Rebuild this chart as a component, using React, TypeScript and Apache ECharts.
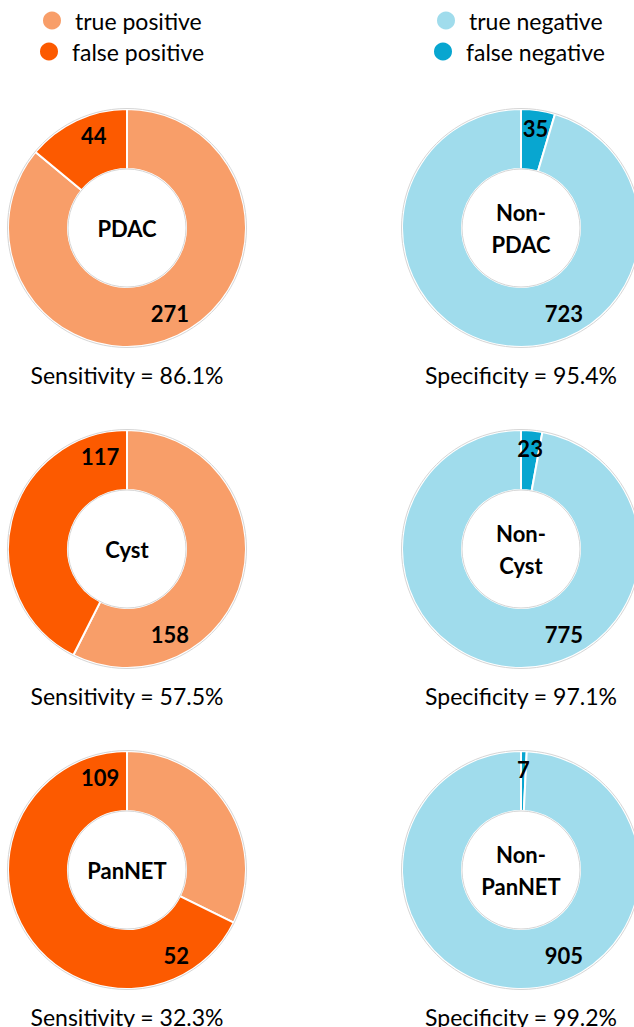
import React, { useEffect, useRef } from "react";
import * as echarts from "echarts";

// ---- data ----
const positiveClasses = ["PDAC", "Cyst", "PanNET"];
const negativeClasses = ["Non-\nPDAC", "Non-\nCyst", "Non-\nPanNET"];
const truePositive = [271, 158, 52];
const falsePositive = [44, 117, 109];
const trueNegative = [723, 775, 905];
const falseNegative = [35, 23, 7];
const sensitivity = ["86.1%", "57.5%", "32.3%"];
const specificity = ["95.4%", "97.1%", "99.2%"];
const legendPositive = ["true positive", "false positive"];
const legendNegative = ["true negative", "false negative"];

// ---- style ----
const COLORS: Record<string, string> = {
  "true positive": "#F89E69",
  "false positive": "#FC5A00",
  "true negative": "#A0DCEC",
  "false negative": "#08A6D0",
};
const FONT = "Lato, 'Open Sans', sans-serif";
const W = 634;
const H = 1027;
const LEFT_CX = 127;
const RIGHT_CX = 521;
const ROW_CY = [228, 549, 870];
const R0 = 59;
const R1 = 119;

export default function App() {
  const ref = useRef<HTMLDivElement>(null);

  useEffect(() => {
    document.body.style.margin = "0";
    if (!ref.current) return;
    const chart = echarts.init(ref.current, null, { renderer: "svg" });

    const labelStyle = {
      show: true,
      position: "inside" as const,
      color: "#000",
      fontFamily: FONT,
      fontWeight: "bold" as const,
      fontSize: 22,
    };

    const series: any[] = [];
    const graphic: any[] = [];

    positiveClasses.forEach((name, i) => {
      const cx = LEFT_CX;
      const cy = ROW_CY[i];
      series.push({
        type: "pie",
        name,
        center: [cx, cy],
        radius: [R0, R1],
        startAngle: 90,
        clockwise: true,
        silent: true,
        avoidLabelOverlap: false,
        emphasis: { disabled: true },
        labelLine: { show: false },
        itemStyle: { borderColor: "#fff", borderWidth: 2 },
        label: { ...labelStyle, formatter: "{c}" },
        labelLayout: (p: any) =>
          p.dataIndex === 0
            ? { x: cx + 62, y: cy + 85, align: "right", verticalAlign: "middle" }
            : { x: cx - 46, y: cy - 93, align: "left", verticalAlign: "middle" },
        data: [
          { name: legendPositive[0], value: truePositive[i], itemStyle: { color: COLORS[legendPositive[0]] } },
          { name: legendPositive[1], value: falsePositive[i], itemStyle: { color: COLORS[legendPositive[1]] } },
        ],
      });
      graphic.push({
        type: "text",
        z: 20,
        style: {
          text: name,
          x: cx,
          y: cy,
          align: "center",
          verticalAlign: "middle",
          fontFamily: FONT,
          fontWeight: "bold",
          fontSize: 22,
          fill: "#000",
        },
      });
      graphic.push({
        type: "text",
        z: 20,
        style: {
          text: `Sensitivity = ${sensitivity[i]}`,
          x: cx,
          y: cy + 147,
          align: "center",
          verticalAlign: "middle",
          fontFamily: FONT,
          fontSize: 23,
          fill: "#000",
        },
      });
    });

    negativeClasses.forEach((name, i) => {
      const cx = RIGHT_CX;
      const cy = ROW_CY[i];
      const half = (falseNegative[i] / (falseNegative[i] + trueNegative[i])) * Math.PI;
      series.push({
        type: "pie",
        name,
        center: [cx, cy],
        radius: [R0, R1],
        startAngle: 90,
        clockwise: true,
        silent: true,
        avoidLabelOverlap: false,
        emphasis: { disabled: true },
        labelLine: { show: false },
        itemStyle: { borderColor: "#fff", borderWidth: 2 },
        label: { ...labelStyle, formatter: "{c}" },
        labelLayout: (p: any) =>
          p.dataIndex === 0
            ? { x: cx + 101 * Math.sin(half), y: cy - 101 * Math.cos(half), align: "center", verticalAlign: "middle" }
            : { x: cx + 62, y: cy + 85, align: "right", verticalAlign: "middle" },
        data: [
          { name: legendNegative[1], value: falseNegative[i], itemStyle: { color: COLORS[legendNegative[1]] } },
          { name: legendNegative[0], value: trueNegative[i], itemStyle: { color: COLORS[legendNegative[0]] } },
        ],
      });
      graphic.push({
        type: "text",
        z: 20,
        style: {
          text: name,
          x: cx,
          y: cy,
          align: "center",
          verticalAlign: "middle",
          fontFamily: FONT,
          fontWeight: "bold",
          fontSize: 22,
          lineHeight: 32,
          fill: "#000",
        },
      });
      graphic.push({
        type: "text",
        z: 20,
        style: {
          text: `Specificity = ${specificity[i]}`,
          x: cx,
          y: cy + 147,
          align: "center",
          verticalAlign: "middle",
          fontFamily: FONT,
          fontSize: 23,
          fill: "#000",
        },
      });
    });

    // faint outlines of the rings
    [LEFT_CX, RIGHT_CX].forEach((cx) =>
      ROW_CY.forEach((cy) => {
        [R1 + 0.5, R0].forEach((r) =>
          graphic.push({
            type: "circle",
            z: 15,
            silent: true,
            shape: { cx, cy, r },
            style: { fill: null, stroke: "#d6d6d6", lineWidth: 1 },
          })
        );
      })
    );

    const legendItem = (name: string, left: number, top: number) => ({
      orient: "vertical",
      left,
      top,
      padding: 0,
      icon: "circle",
      itemWidth: 36,
      itemHeight: 20,
      selectedMode: false,
      data: [name],
      textStyle: { fontFamily: FONT, fontSize: 23, color: "#000", lineHeight: 20 },
    });

    chart.setOption({
      animation: false,
      backgroundColor: "#fff",
      legend: [
        legendItem(legendPositive[0], 41, 9),
        legendItem(legendPositive[1], 38, 40),
        legendItem(legendNegative[0], 435, 9),
        legendItem(legendNegative[1], 432, 40),
      ],
      series,
      graphic,
    });

    return () => chart.dispose();
  }, []);

  return <div ref={ref} style={{ width: W, height: H }} />;
}
